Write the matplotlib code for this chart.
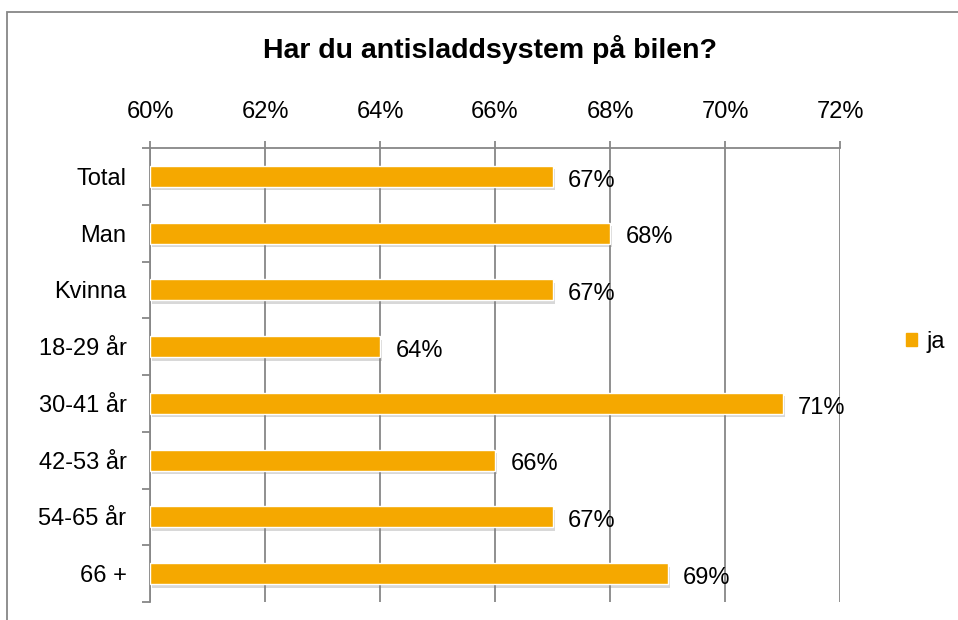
import matplotlib.pyplot as plt
import matplotlib.patheffects as pe
from matplotlib.patches import Rectangle

plt.rcParams['font.family'] = ['Liberation Sans', 'DejaVu Sans']

categories = ["Total", "Man", "Kvinna", "18-29 år", "30-41 år", "42-53 år", "54-65 år", "66 +"]
ja = [67, 68, 67, 64, 71, 66, 67, 69]
xticks = [60, 62, 64, 66, 68, 70, 72]

bar_color = "#F5A800"
grid_color = "#878787"

fig = plt.figure(figsize=(9.58, 6.2), dpi=100)
ax = fig.add_axes([0.1566, 0.029, 0.7203, 0.7323])

# ramen runt hela diagrammet
fig.patches.append(Rectangle((7 / 958, -0.1), 1.2, 1 - 12 / 620 + 0.1,
                             transform=fig.transFigure, fill=False,
                             edgecolor=grid_color, linewidth=1.3))

y = list(range(len(categories)))
bars = ax.barh(y, [v - 60 for v in ja], left=60, height=0.37, color=bar_color,
               edgecolor="white", linewidth=1, label="ja", zorder=3)
for b in bars:
    b.set_path_effects([pe.SimplePatchShadow(offset=(1.5, -2.5), shadow_rgbFace="#7f7f7f", alpha=0.3),
                        pe.Normal()])

for yi, v in zip(y, ja):
    ax.annotate(f"{v}%", (v, yi), xytext=(11, -3), textcoords="offset points",
                va="center", ha="left", fontsize=17, zorder=4)

ax.set_xlim(60, 72)
ax.set_ylim(len(categories) - 0.5, -0.5)
ax.set_xticks(xticks)
ax.set_xticklabels([f"{t}%" for t in xticks])
ax.xaxis.tick_top()
ax.tick_params(axis="x", which="major", direction="out", length=5, width=1.3,
               color=grid_color, pad=13, labelsize=17)
ax.set_yticks(y)
ax.set_yticklabels(categories)
ax.set_yticks([i - 0.5 for i in range(len(categories) + 1)], minor=True)
ax.tick_params(axis="y", which="major", length=0, pad=17, labelsize=17)
ax.tick_params(axis="y", which="minor", direction="out", length=6, width=1.3, color=grid_color)

ax.grid(axis="x", color=grid_color, linewidth=1.3, zorder=0)
ax.set_axisbelow(True)
for s in ["right", "bottom"]:
    ax.spines[s].set_visible(False)
for s in ["top", "left"]:
    ax.spines[s].set_color(grid_color)
    ax.spines[s].set_linewidth(1.3)

fig.text(490 / 958, 1 - 50 / 620, "Har du antisladdsystem på bilen?", ha="center", va="center",
         fontsize=20.5, fontweight="bold")

leg = ax.legend(loc="center left", bbox_to_anchor=(1.065, 0.5 + (383 - 350) / 454), frameon=False,
                fontsize=17, handlelength=0.45, handleheight=0.45, handletextpad=0.4)
for h in leg.legend_handles:
    h.set_path_effects([])
    h.set_edgecolor(bar_color)

fig.savefig("out.png", dpi=100)
